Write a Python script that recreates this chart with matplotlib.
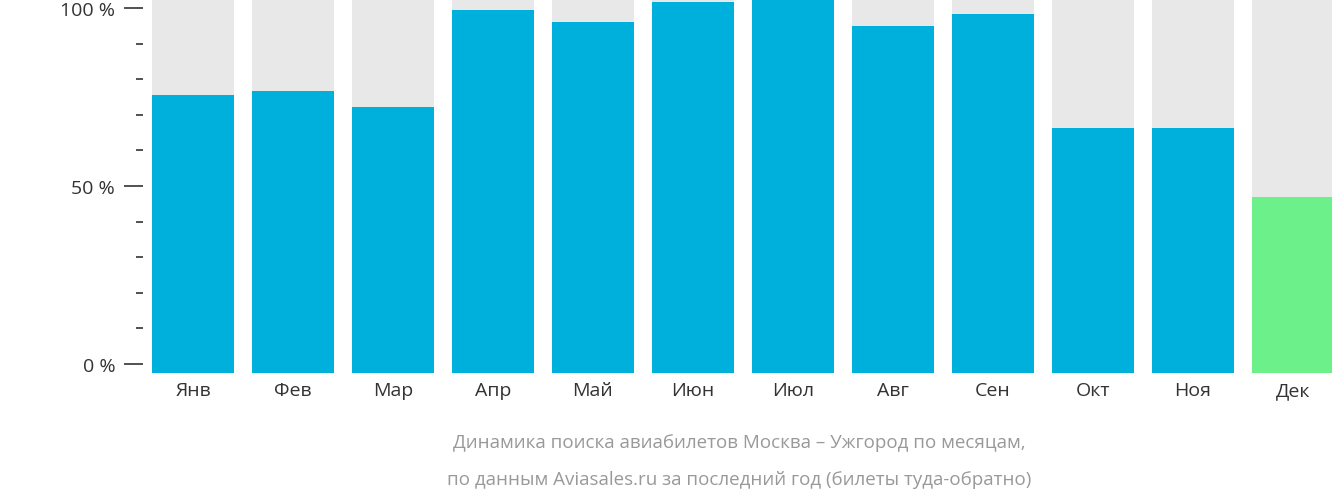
import matplotlib
matplotlib.use("Agg")
import matplotlib.pyplot as plt
from matplotlib.ticker import MultipleLocator

months = ["Янв","Фев","Мар","Апр","Май","Июн","Июл","Авг","Сен","Окт","Ноя","Дек"]
values = [75.6, 76.7, 72.2, 99.4, 96.1, 101.7, 102.5, 94.9, 98.3, 66.3, 66.3, 46.9]
colors = ["#00b0dc"]*11 + ["#6cf08a"]
ytick_vals = [0, 50, 100]
ytick_labels = ["0 %", "50 %", "100 %"]

plt.rcParams["font.family"] = "Open Sans"
fig = plt.figure(figsize=(13.32, 5.02), dpi=100)
W, H = 1332, 502
ax = fig.add_axes([143/W, (H-374)/H, 1200/W, 374/H])
ymin, ymax = -2.53, 102.5
x = range(len(months))
ax.bar(x, [ymax-ymin]*len(months), bottom=ymin, width=0.82, color="#e8e8e8")
ax.bar(x, [v-ymin for v in values], bottom=ymin, width=0.82, color=colors)
ax.set_xlim(-0.5, 11.5)
ax.set_ylim(ymin, ymax)
for s in ax.spines.values():
    s.set_visible(False)
ax.set_xticks(list(x))
ax.set_xticklabels(months, fontsize=14, color="#333333")
ax.tick_params(axis="x", length=0, pad=6)
ax.set_yticks(ytick_vals)
ax.set_yticklabels(ytick_labels, fontsize=14, color="#333333")
ax.yaxis.set_minor_locator(MultipleLocator(10))
ax.tick_params(axis="y", which="major", length=14, width=1.2, color="#333333", pad=6)
ax.tick_params(axis="y", which="minor", length=5, width=1.2, color="#333333")
fig.text(0.555, 1-443/H, "Динамика поиска авиабилетов Москва – Ужгород по месяцам,", ha="center", va="center", fontsize=13.5, color="#999999")
fig.text(0.555, 1-480/H, "по данным Aviasales.ru за последний год (билеты туда-обратно)", ha="center", va="center", fontsize=13.5, color="#999999")
fig.savefig("out.png", dpi=100)
